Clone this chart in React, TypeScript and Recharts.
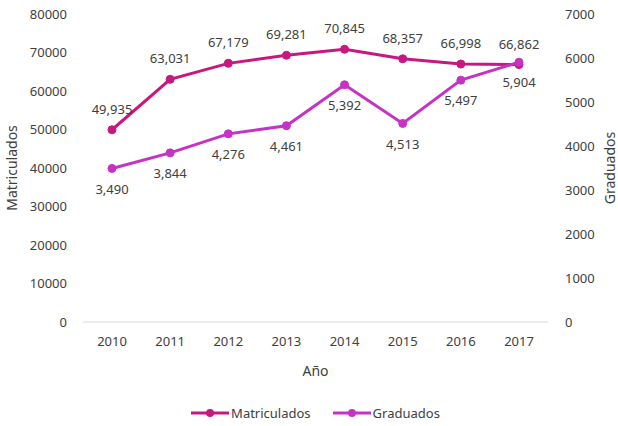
import { Label, LabelList, Legend, Line, LineChart, XAxis, YAxis } from "recharts"

const years = ["2010", "2011", "2012", "2013", "2014", "2015", "2016", "2017"]
const matriculados = [49935, 63031, 67179, 69281, 70845, 68357, 66998, 66862]
const graduados = [3490, 3844, 4276, 4461, 5392, 4513, 5497, 5904]
const leftTicks = [0, 10000, 20000, 30000, 40000, 50000, 60000, 70000, 80000]
const rightTicks = [0, 1000, 2000, 3000, 4000, 5000, 6000, 7000]
const seriesOrder = ["matriculados", "graduados"]
const seriesNames: Record<string, string> = { matriculados: "Matriculados", graduados: "Graduados" }

const MATRIC_COLOR = "#C8177F"
const GRAD_COLOR = "#C532C4"
const TEXT_COLOR = "#404040"
const FONT = "'Noto Sans', sans-serif"

const data = years.map((year, i) => ({ year, matriculados: matriculados[i], graduados: graduados[i] }))

const fmt = (v: any) => Number(v).toLocaleString("en-US")

function renderLegend(props: any) {
  const items = [...(props.payload || [])].sort(
    (a: any, b: any) => seriesOrder.indexOf(a.dataKey) - seriesOrder.indexOf(b.dataKey)
  )
  return (
    <div style={{ display: "flex", justifyContent: "center", gap: 22, fontFamily: FONT, fontSize: 13, color: TEXT_COLOR }}>
      {items.map((entry: any) => (
        <span key={entry.dataKey} style={{ display: "inline-flex", alignItems: "center" }}>
          <svg width={38} height={10} style={{ marginRight: 2 }}>
            <line x1={0} y1={5} x2={38} y2={5} stroke={entry.color} strokeWidth={3} />
            <circle cx={19} cy={5} r={4} fill={entry.color} />
          </svg>
          <span>{seriesNames[entry.dataKey]}</span>
        </span>
      ))}
    </div>
  )
}

export default function App() {
  return (
    <div style={{ position: "absolute", left: 0, top: 0, width: 618, height: 426, background: "#fff" }}>
      <LineChart width={618} height={426} data={data} margin={{ top: 14, right: 0, bottom: 4, left: 0 }}>
        <XAxis
          dataKey="year"
          height={82}
          padding={{ left: 29, right: 29 }}
          tickLine={false}
          tickSize={0}
          tickMargin={15}
          axisLine={{ stroke: "#D9D9D9" }}
          tick={{ fill: TEXT_COLOR, fontSize: 13, fontFamily: FONT }}
        >
          <Label value="Año" position="insideBottom" offset={28} style={{ fill: TEXT_COLOR, fontSize: 14, fontFamily: FONT }} />
        </XAxis>
        <YAxis
          yAxisId="left"
          width={83}
          domain={[0, 80000]}
          ticks={leftTicks}
          interval={0}
          tickLine={false}
          axisLine={false}
          tickSize={0}
          tickMargin={16}
          tick={{ fill: TEXT_COLOR, fontSize: 13, fontFamily: FONT }}
        >
          <Label
            value="Matriculados"
            angle={-90}
            position="insideLeft"
            offset={12}
            style={{ fill: TEXT_COLOR, fontSize: 14, fontFamily: FONT, textAnchor: "middle" }}
          />
        </YAxis>
        <YAxis
          yAxisId="right"
          orientation="right"
          width={70}
          domain={[0, 7000]}
          ticks={rightTicks}
          interval={0}
          tickLine={false}
          axisLine={false}
          tickSize={0}
          tickMargin={17}
          tick={{ fill: TEXT_COLOR, fontSize: 13, fontFamily: FONT }}
        >
          <Label
            value="Graduados"
            angle={-90}
            position="insideRight"
            offset={8}
            style={{ fill: TEXT_COLOR, fontSize: 14, fontFamily: FONT, textAnchor: "middle" }}
          />
        </YAxis>
        <Legend content={renderLegend} verticalAlign="bottom" wrapperStyle={{ left: 83, width: 465 }} />
        <Line
          yAxisId="left"
          dataKey="matriculados"
          stroke={MATRIC_COLOR}
          strokeWidth={3}
          dot={{ r: 4, fill: MATRIC_COLOR, stroke: MATRIC_COLOR, strokeWidth: 1 }}
          isAnimationActive={false}
        >
          <LabelList dataKey="matriculados" position="top" offset={16} formatter={fmt} style={{ fill: TEXT_COLOR, fontSize: 13, fontFamily: FONT }} />
        </Line>
        <Line
          yAxisId="right"
          dataKey="graduados"
          stroke={GRAD_COLOR}
          strokeWidth={3}
          dot={{ r: 4, fill: GRAD_COLOR, stroke: GRAD_COLOR, strokeWidth: 1 }}
          isAnimationActive={false}
        >
          <LabelList dataKey="graduados" position="bottom" offset={16} formatter={fmt} style={{ fill: TEXT_COLOR, fontSize: 13, fontFamily: FONT }} />
        </Line>
      </LineChart>
    </div>
  )
}
